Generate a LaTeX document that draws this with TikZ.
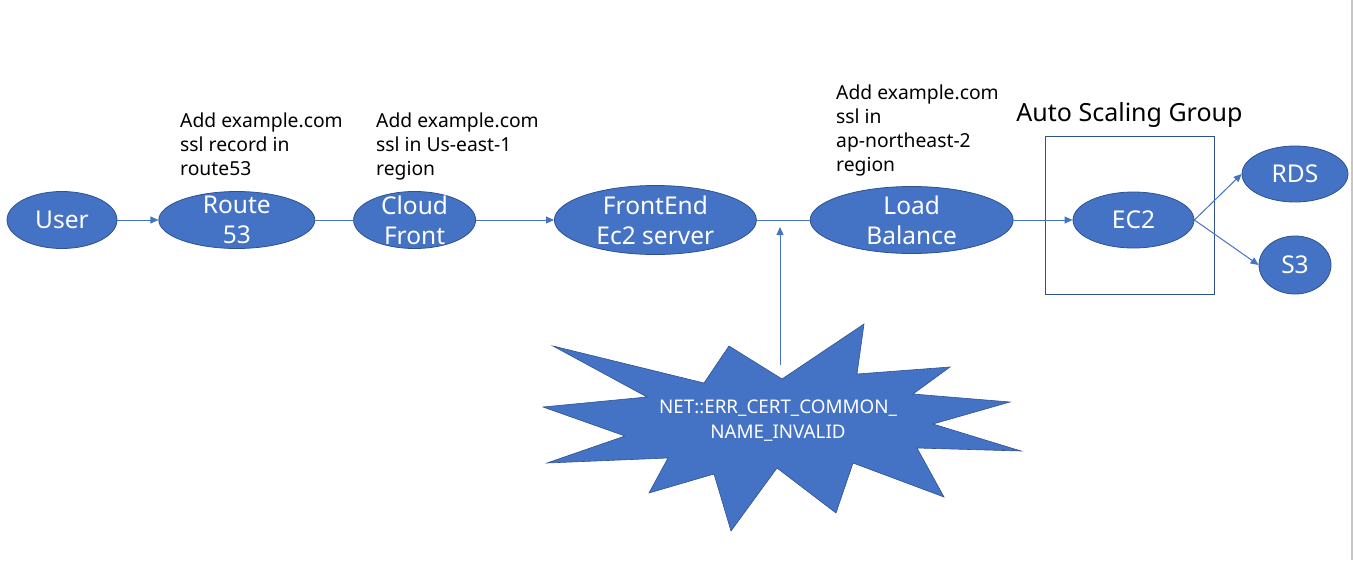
\documentclass[tikz,border=0pt]{standalone}
\usepackage{fontspec}
\setmainfont{Noto Sans}
\usetikzlibrary{positioning,arrows.meta,shapes.geometric}
\definecolor{officeblue}{HTML}{4472C4}
\definecolor{edgeblue}{HTML}{2F528F}

\begin{document}
\begin{tikzpicture}[
    x=1pt, y=-1pt,
    svc/.style={ellipse, draw=edgeblue, fill=officeblue, line width=0.8pt,
                inner sep=0pt, minimum height=57pt},
    svctext/.style={text=white, align=center, inner sep=0pt,
                    font=\fontsize{24.5}{30}\selectfont},
    note/.style={anchor=north west, align=left, inner sep=0pt,
                 font=\fontsize{19.3}{24}\selectfont},
    arrow/.style={-{Triangle[length=8pt,width=7pt]}, draw=officeblue, line width=1pt},
    link/.style={draw=officeblue, line width=1pt}
  ]
  \useasboundingbox (0,0) rectangle (1353,560);
  \draw[gray!45, line width=1.2pt] (1352,0) -- (1352,560);

  % ----- Auto Scaling Group box -----
  \node[draw=edgeblue, line width=0.8pt, minimum width=169pt, minimum height=158pt,
        inner sep=0pt] (asg) at (1129.5,215) {};
  \node[inner sep=0pt, font=\fontsize{25}{29}\selectfont, above=8pt of asg] (asgname)
        {Auto Scaling Group};

  % ----- Main row -----
  \node[svc, minimum width=110pt, label={[svctext]center:User}] (user) at (62,220) {};
  \node[svc, minimum width=156pt, right=41pt of user,
        label={[svctext]center:{Route\\53}}] (route) {};
  \node[svc, minimum width=122pt, right=38pt of route,
        label={[svctext]center:{Cloud\\Front}}] (cloud) {};
  \node[svc, minimum width=202pt, minimum height=69pt, right=78pt of cloud,
        label={[svctext]center:{FrontEnd\\Ec2 server}}] (front) {};
  \node[svc, minimum width=203pt, minimum height=67pt, right=53pt of front,
        label={[svctext]center:{Load\\Balance}}] (lb) {};
  \node[svc, minimum width=121pt, minimum height=56pt, right=59pt of lb,
        label={[svctext]center:EC2}] (ec2) {};
  \node[svc, minimum width=106pt, minimum height=56pt,
        label={[svctext]center:RDS}] (rds) at (1295,174) {};
  \node[svc, minimum width=72pt, minimum height=58pt,
        label={[svctext]center:S3}] (s3) at (1295,265) {};

  \draw[arrow] (user.east) -- (route.west);
  \draw[link]  (route.east) -- (cloud.west);
  \draw[arrow] (cloud.east) -- (front.west);
  \draw[link]  (front.east) -- (lb.west);
  \draw[arrow] (lb.east) -- (ec2.west);
  \draw[arrow] (ec2.east) -- (rds.west);
  \draw[arrow] (ec2.east) -- (s3.west);

  % ----- Notes -----
  \node[note] (note1) at (180,113) {Add example.com\\ssl record in\\route53};
  \node[note] (note2) at (376,113) {Add example.com\\ssl in Us-east-1\\region};
  \node[note] (note3) at (836,85) {Add example.com\\ssl in\\ap-northeast-2\\region};

  % ----- Error burst -----
  \fill[officeblue, draw=edgeblue, line width=0.6pt]
    (553,346) -- (704,383) -- (729,346) -- (782,379) -- (864,324) -- (857,374)
    -- (950,367) -- (913,394) -- (1010,402) -- (933,424) -- (1021,451) -- (917,448)
    -- (944,497) -- (853,463) -- (836,513) -- (777,468) -- (731,531) -- (714,474)
    -- (649,493) -- (668,458) -- (547,463) -- (625,436) -- (543,407) -- (647,397)
    -- cycle;
  \node[text=white, align=center, inner sep=0pt, font=\fontsize{18.8}{25}\selectfont]
    (err) at (778,421) {NET::ERR\_CERT\_COMMON\_\\NAME\_INVALID};
  \coordinate (errtop) at (780,365);
  \coordinate (hit) at (780,227);
  \draw[arrow] (errtop) -- (hit);
\end{tikzpicture}
\end{document}
